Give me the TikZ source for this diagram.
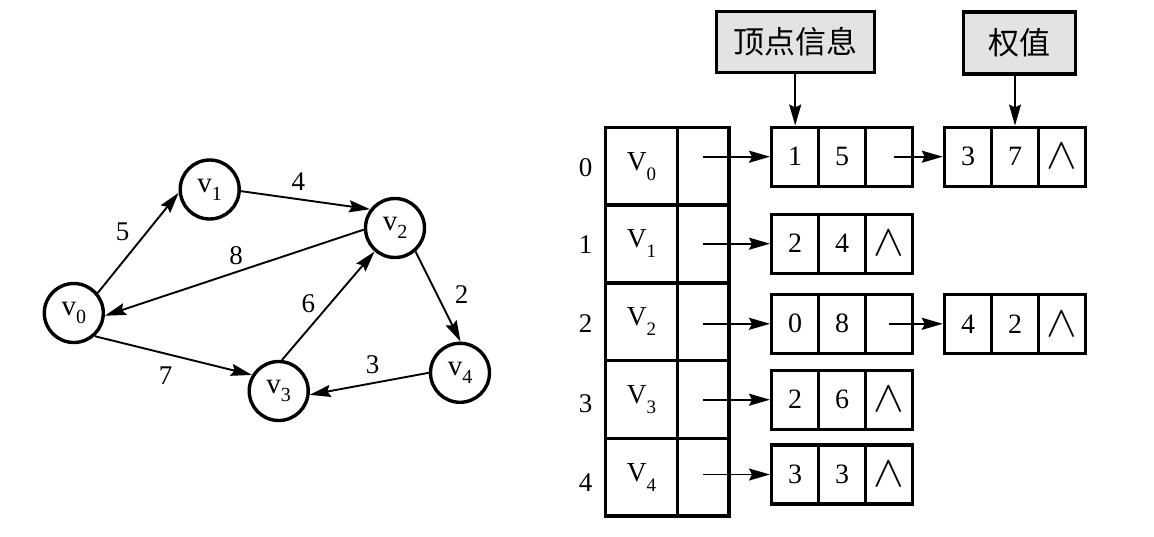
\documentclass[tikz,border=0pt]{standalone}
\usepackage{fontspec}
\setmainfont{Liberation Serif}
\newfontfamily\cjk{Noto Sans CJK SC}
\usetikzlibrary{arrows.meta}
\newcommand\gsub[1]{\raisebox{-8pt}{\fontsize{20}{20}\selectfont #1}}
\newcommand\tsub[1]{\raisebox{-10pt}{\fontsize{19}{19}\selectfont #1}}
\newcommand\nullsym{{\fontsize{10}{12}\selectfont\scalebox{4.6}[4.4]{$\wedge$}}}
\tikzset{
  vert/.style={circle, draw, line width=3.4pt, minimum size=59pt, inner sep=0pt,
    font=\fontsize{29}{29}\selectfont},
  edge/.style={line width=1.9pt, -{Stealth[length=21pt,width=12pt,inset=3pt]}},
  wlabel/.style={inner sep=0pt, font=\fontsize{27}{27}\selectfont},
  cellv/.style={draw, line width=3.4pt, minimum width=71.6pt, minimum height=77.74pt,
    inner sep=0pt, font=\fontsize{27.5}{27.5}\selectfont},
  cellp/.style={draw, line width=3.4pt, minimum width=51.7pt, minimum height=77.74pt,
    inner sep=0pt},
  lcell/.style={draw, line width=3.4pt, minimum width=47pt, minimum height=59pt,
    inner sep=0pt, font=\fontsize{28}{28}\selectfont},
  header/.style={draw, line width=3.4pt, fill=gray!22, inner sep=0pt,
    font=\cjk\fontsize{31}{31}\selectfont},
}
\begin{document}
\begin{tikzpicture}[x=1pt, y=-1pt]
\useasboundingbox (0,0) rectangle (1154,536);
% ---------- graph ----------
\node[vert] (v0) at (73.8,313) {v\gsub{0}};
\node[vert] (v1) at (209.7,189.5) {v\gsub{1}};
\node[vert] (v2) at (395,228) {v\gsub{2}};
\node[vert] (v3) at (278.7,391) {v\gsub{3}};
\node[vert] (v4) at (460,372.8) {v\gsub{4}};
\draw[edge] (v0.40) -- (v1.186);
\draw[edge] (v1.-3) -- (v2.143);
\draw[edge] (v2.183) -- (v0.-5);
\draw[edge] (v3.84) -- (v2.229);
\draw[edge] (v2.-49) -- (v4.89);
\draw[edge] (v0.-48) -- (v3.149);
\draw[edge] (v4.180) -- (v3.-7);
\node[wlabel] (l5) at (122.7,231.7) {5};
\node[wlabel] (l4) at (298.3,181.7) {4};
\node[wlabel] (l8) at (236,256) {8};
\node[wlabel] (l6) at (308.3,304) {6};
\node[wlabel] (l2) at (461.7,295) {2};
\node[wlabel] (l7) at (165.7,376) {7};
\node[wlabel] (l3) at (372.7,365) {3};
% ---------- vertex table ----------
\foreach \i/\y/\iy in {0/166.2/168, 1/243.9/245, 2/321.7/324, 3/399.4/404, 4/477.2/482.7}{
  \node[cellv] (t\i) at (641.5,\y) {V\tsub{\i}};
  \node[cellp] (p\i) at (703.15,\y) {};
  \node[wlabel] (idx\i) at (585.7,\iy) {\i};
}
% ---------- edge lists ----------
% row 0
\node[lcell] (e0a) at (795.2,156.7) {1};
\node[lcell] (e0b) at (842.2,156.7) {5};
\node[lcell] (e0c) at (889.2,156.7) {};
\node[lcell] (f0a) at (968,156.7) {3};
\node[lcell] (f0b) at (1015,156.7) {7};
\node[lcell] (f0c) at (1062,156.7) {\nullsym};
% row 1
\node[lcell] (e1a) at (795.2,243.7) {2};
\node[lcell] (e1b) at (842.2,243.7) {4};
\node[lcell] (e1c) at (889.2,243.7) {\nullsym};
% row 2
\node[lcell] (e2a) at (795.2,323.8) {0};
\node[lcell] (e2b) at (842.2,323.8) {8};
\node[lcell] (e2c) at (889.2,323.8) {};
\node[lcell] (f2a) at (968,323.8) {4};
\node[lcell] (f2b) at (1015,323.8) {2};
\node[lcell] (f2c) at (1062,323.8) {\nullsym};
% row 3
\node[lcell] (e3a) at (795.2,399.7) {2};
\node[lcell] (e3b) at (842.2,399.7) {6};
\node[lcell] (e3c) at (889.2,399.7) {\nullsym};
% row 4
\node[lcell] (e4a) at (795.2,474.5) {3};
\node[lcell] (e4b) at (842.2,474.5) {3};
\node[lcell] (e4c) at (889.2,474.5) {\nullsym};
% pointers
\foreach \i in {0,1,2,3,4}{
  \draw[edge] (p\i.center |- e\i a.center) -- (e\i a.west);
}
\draw[edge] ([xshift=5pt]e0c.center) -- (f0a.west);
\draw[edge] (e2c.center) -- (f2a.west);
% headers
\node[header, minimum width=158pt, minimum height=60.6pt] (h1) at (795.2,42) {顶点信息};
\node[header, minimum width=112pt, minimum height=62pt] (h2) at (1019.5,42.8) {权值};
\draw[edge] (h1.south) -- (e0a.north);
\draw[edge] (h2.south -| f0b.north) -- (f0b.north);
\end{tikzpicture}
\end{document}
